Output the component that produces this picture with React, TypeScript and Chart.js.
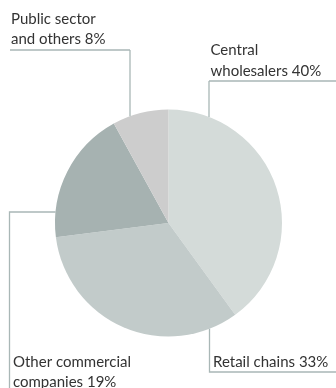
import React, { useEffect, useRef } from "react";
import { Chart, registerables } from "chart.js";

Chart.register(...registerables);

const categories = ["Central wholesalers", "Retail chains", "Other commercial companies", "Public sector and others"];
const shares = [40, 33, 19, 8];
const labelLines = [
  ["Central", "wholesalers 40%"],
  ["Retail chains 33%"],
  ["Other commercial", "companies 19%"],
  ["Public sector", "and others 8%"],
];
const sliceColors = ["#d4dbd9", "#c2cbca", "#a6b2b1", "#cdcdcd"];

const W = 336;
const H = 388;
const LINE_COLOR = "#a9b7b6";
const TEXT_COLOR = "#333333";
const FONT = '15px "Lato", "Open Sans", sans-serif';

// label layout (text position and leader-line routing)
const labelLayout = [
  { tx: 210.5, ty: 54.5, lh: 21.5, kind: "topDown", hy: 81, vx: 209, x0: 209, x1: W },
  { tx: 213, ty: 367, lh: 21, kind: "bottomUp", hy: 372, vx: 209.5, x0: 209.5, x1: W },
  { tx: 13, ty: 367, lh: 20, kind: "leftSide", hy: 212, vx: 9.5, x0: 9.5, x1: 0 },
  { tx: 11, ty: 24, lh: 20, kind: "topDown", hy: 50, vx: 130, x0: 10, x1: 130 },
];

const leaderPlugin = {
  id: "leaders",
  afterDraw(chart: any) {
    const ctx = chart.ctx;
    const arc = chart.getDatasetMeta(0).data[0];
    if (!arc) return;
    const cx = arc.x;
    const cy = arc.y;
    const r = arc.outerRadius;
    ctx.save();
    ctx.strokeStyle = LINE_COLOR;
    ctx.lineWidth = 1.3;
    labelLayout.forEach((l, i) => {
      ctx.beginPath();
      if (l.kind === "topDown") {
        const dx = l.vx - cx;
        const ey = cy - Math.sqrt(Math.max(r * r - dx * dx, 0));
        ctx.moveTo(l.x0, l.hy);
        ctx.lineTo(l.x1, l.hy);
        ctx.moveTo(l.vx, l.hy);
        ctx.lineTo(l.vx, ey);
      } else if (l.kind === "bottomUp") {
        const dx = l.vx - cx;
        const ey = cy + Math.sqrt(Math.max(r * r - dx * dx, 0));
        ctx.moveTo(l.vx, ey);
        ctx.lineTo(l.vx, l.hy);
        ctx.lineTo(l.x1, l.hy);
      } else {
        const dy = l.hy - cy;
        const ex = cx - Math.sqrt(Math.max(r * r - dy * dy, 0));
        ctx.moveTo(ex, l.hy);
        ctx.lineTo(l.vx, l.hy);
        ctx.lineTo(l.vx, H);
      }
      ctx.stroke();
      ctx.fillStyle = TEXT_COLOR;
      ctx.font = FONT;
      ctx.textAlign = "left";
      ctx.textBaseline = "alphabetic";
      labelLines[i].forEach((t, j) => ctx.fillText(t, l.tx, l.ty + j * l.lh));
    });
    ctx.restore();
  },
};

export default function App() {
  const ref = useRef<HTMLCanvasElement | null>(null);
  useEffect(() => {
    document.body.style.margin = "0";
    if (!ref.current) return;
    const chart = new Chart(ref.current, {
      type: "pie",
      data: {
        labels: categories,
        datasets: [
          {
            data: shares,
            backgroundColor: sliceColors,
            borderWidth: 0,
          },
        ],
      },
      options: {
        responsive: false,
        animation: false,
        layout: { padding: { left: 55, right: 54, top: 109.5, bottom: 51.5 } },
        plugins: { legend: { display: false }, tooltip: { enabled: false } },
      },
      plugins: [leaderPlugin],
    });
    return () => chart.destroy();
  }, []);
  return (
    <div style={{ width: W, height: H, background: "#fff" }}>
      <canvas ref={ref} width={W} height={H} style={{ display: "block" }} />
    </div>
  );
}
